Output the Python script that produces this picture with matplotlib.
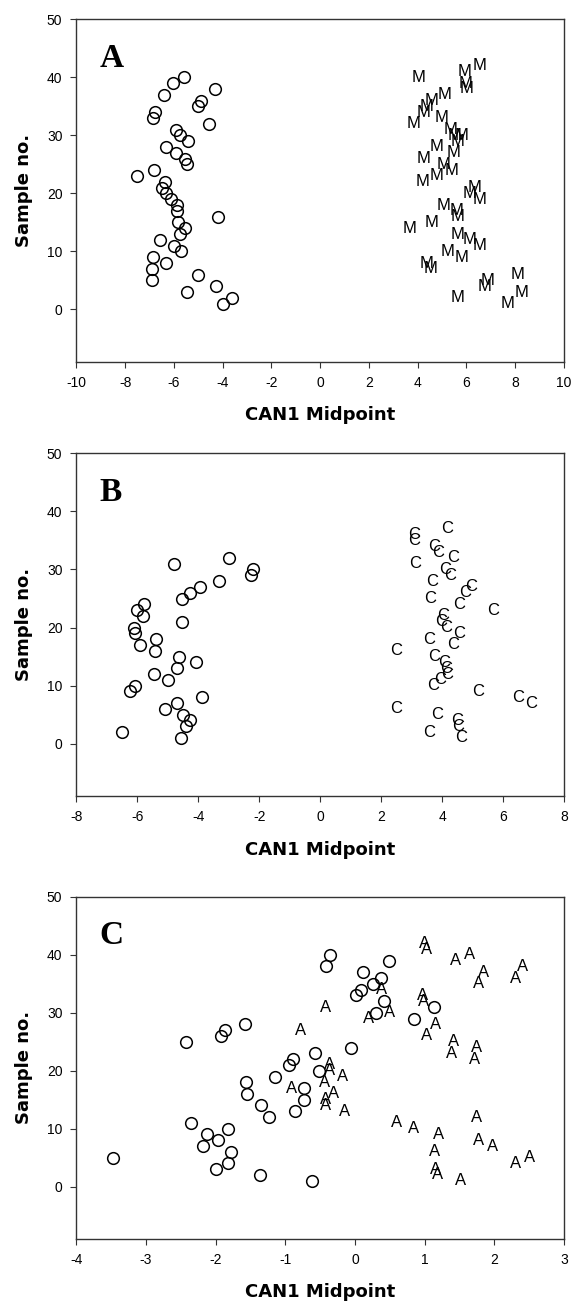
import matplotlib
matplotlib.use("Agg")
import matplotlib.pyplot as plt

# ---------------- Panel A data ----------------
a_circ_x = [-5.6, -6.05, -4.3, -6.4, -4.9, -5.0, -6.76, -6.84, -4.55, -5.9,
            -5.75, -5.4, -6.33, -5.93, -5.56, -5.45, -6.8, -7.5, -6.36, -6.48,
            -6.33, -6.13, -5.86, -5.87, -4.2, -5.83, -5.56, -5.75, -6.58, -6.0,
            -5.7, -6.85, -6.33, -6.88, -5.0, -6.9, -4.28, -5.48, -3.6, -4.0]
a_circ_y = [40, 39, 38, 37, 36, 35, 34, 33, 32, 31,
            30, 29, 28, 27, 26, 25, 24, 23, 22, 21,
            20, 19, 18, 17, 16, 15, 14, 13, 12, 11,
            10, 9, 8, 7, 6, 5, 4, 3, 2, 1]
a_m_x = [6.54, 5.93, 4.04, 5.97, 6.0, 5.1, 4.58, 4.38, 4.24, 4.99,
         3.84, 5.33, 5.53, 5.8, 5.62, 4.78, 5.46, 4.24, 5.05, 5.39,
         4.78, 4.22, 6.34, 6.14, 6.54, 5.05, 5.6, 5.62, 4.58, 3.67,
         5.62, 6.14, 6.52, 5.23, 5.8, 4.38, 4.54, 8.1, 6.88, 6.75,
         8.24, 5.62, 7.7]
a_m_y = [42, 41, 40, 39, 38, 37, 36, 35, 34, 33,
         32, 31, 30, 30, 29, 28, 27, 26, 25, 24,
         23, 22, 21, 20, 19, 18, 17, 16, 15, 14,
         13, 12, 11, 10, 9, 8, 7, 6, 5, 4,
         3, 2, 1]

# ---------------- Panel B data ----------------
b_circ_x = [-6.5, -4.55, -4.4, -4.27, -4.5, -5.1, -4.7, -3.88, -6.24, -6.08,
            -5.0, -5.44, -4.7, -4.06, -4.62, -5.42, -5.9, -5.4, -6.08, -6.12,
            -4.54, -5.82, -6.02, -5.78, -4.54, -4.27, -3.94, -3.33, -2.28, -2.19,
            -4.78, -3.0]
b_circ_y = [2, 1, 3, 4, 5, 6, 7, 8, 9, 10,
            11, 12, 13, 14, 15, 16, 17, 18, 19, 20,
            21, 22, 23, 24, 25, 26, 27, 28, 29, 30,
            31, 32]
b_c_x = [4.17, 3.08, 3.08, 3.74, 3.88, 4.35, 3.1, 4.1, 4.26, 3.67,
         4.95, 4.77, 3.6, 4.56, 5.67, 4.05, 3.96, 4.13, 4.56, 3.59,
         4.35, 2.48, 3.74, 4.07, 4.14, 4.17, 3.92, 3.71, 5.17, 6.49,
         6.91, 2.48, 3.84, 4.5, 4.52, 3.56, 4.62]
b_c_y = [37, 36, 35, 34, 33, 32, 31, 30, 29, 28,
         27, 26, 25, 24, 23, 22, 21, 20, 19, 18,
         17, 16, 15, 14, 13, 12, 11, 10, 9, 8,
         7, 6, 5, 4, 3, 2, 1]

# ---------------- Panel C data ----------------
c_circ_x = [-3.47, -2.42, -2.36, -2.13, -2.18, -1.97, -2.0, -1.82, -1.78, -1.82,
            -1.92, -1.86, -1.58, -1.57, -1.55, -1.35, -1.36, -1.24, -1.15, -0.95,
            -0.89, -0.86, -0.73, -0.73, -0.61, -0.58, -0.52, -0.41, -0.36, -0.06,
            0.02, 0.09, 0.12, 0.26, 0.37, 0.42, 0.3, 0.49, 0.85, 1.13]
c_circ_y = [5, 25, 11, 9, 7, 8, 3, 10, 6, 4,
            26, 27, 28, 18, 16, 14, 2, 12, 19, 21,
            22, 13, 17, 15, 1, 23, 20, 38, 40, 24,
            33, 34, 37, 35, 36, 32, 30, 39, 29, 31]
c_a_x = [1.0, 1.03, 1.45, 1.64, 1.84, 1.78, 2.41, 2.3, 0.97, 0.99,
         0.38, -0.42, 0.19, 0.49, 1.16, -0.78, 1.03, 1.42, 1.39, 1.74,
         1.71, -0.37, -0.36, -0.18, -0.44, -0.91, -0.31, -0.42, -0.42, -0.15,
         1.74, 0.59, 0.84, 1.2, 1.77, 1.97, 1.14, 2.5, 2.3, 1.15,
         1.18, 1.51]
c_a_y = [42, 41, 39, 40, 37, 35, 38, 36, 33, 32,
         34, 31, 29, 30, 28, 27, 26, 25, 23, 24,
         22, 21, 20, 19, 18, 17, 16, 15, 14, 13,
         12, 11, 10, 9, 8, 7, 6, 5, 4, 3,
         2, 1]

panels = [
    dict(label="A", cx=a_circ_x, cy=a_circ_y, lx=a_m_x, ly=a_m_y, letter="M",
         xlim=(-10, 10), xticks=[-10, -8, -6, -4, -2, 0, 2, 4, 6, 8, 10]),
    dict(label="B", cx=b_circ_x, cy=b_circ_y, lx=b_c_x, ly=b_c_y, letter="C",
         xlim=(-8, 8), xticks=[-8, -6, -4, -2, 0, 2, 4, 6, 8]),
    dict(label="C", cx=c_circ_x, cy=c_circ_y, lx=c_a_x, ly=c_a_y, letter="A",
         xlim=(-4, 3), xticks=[-4, -3, -2, -1, 0, 1, 2, 3]),
]
yticks = [0, 10, 20, 30, 40, 50]

fig = plt.figure(figsize=(5.76, 13.07), dpi=100)
W, H = 576.0, 1307.0
boxes = [(19.3, 361.7), (453.3, 796.0), (897.0, 1238.7)]
left_px, right_px = 76.3, 564.0

for p, (top, bot) in zip(panels, boxes):
    ax = fig.add_axes([left_px / W, 1 - bot / H, (right_px - left_px) / W, (bot - top) / H])
    ax.plot(p["cx"], p["cy"], linestyle="none", marker="o", markersize=8.4,
            markerfacecolor="none", markeredgecolor="black", markeredgewidth=1.1)
    for x, y in zip(p["lx"], p["ly"]):
        ax.text(x, y, p["letter"], ha="center", va="center", fontsize=12,
                family="Liberation Sans", color="black")
    ax.set_xlim(*p["xlim"])
    ax.set_ylim(-9, 50)
    ax.set_xticks(p["xticks"])
    ax.set_yticks(yticks)
    ax.set_xticklabels([str(t) for t in p["xticks"]], family="Liberation Sans", fontsize=10)
    ax.set_yticklabels([str(t) for t in yticks], family="Liberation Sans", fontsize=10)
    ax.tick_params(direction="out", length=4, width=0.8, color="#333333", pad=6)
    for s in ax.spines.values():
        s.set_linewidth(1.0)
        s.set_color("#333333")
    ax.set_xlabel("CAN1 Midpoint", fontsize=13, fontweight="bold",
                  family="DejaVu Sans", labelpad=12)
    ax.set_ylabel("Sample no.", fontsize=13, fontweight="bold",
                  family="DejaVu Sans", labelpad=10)
    ax.text(0.047, 0.861, p["label"], transform=ax.transAxes, ha="left", va="baseline",
            fontsize=24, fontweight="bold", family="Liberation Serif")

fig.savefig("out.png", dpi=100)
